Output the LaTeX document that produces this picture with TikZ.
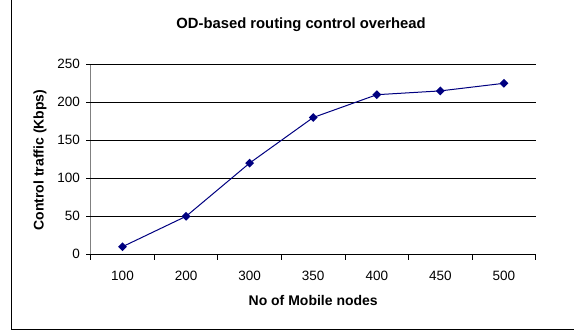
\documentclass[tikz,border=0pt]{standalone}
\usepackage{fontspec}
\setmainfont{Liberation Sans}
\usetikzlibrary{shapes.geometric}
\begin{document}
\begin{tikzpicture}[x=1pt,y=-1pt,
  ticklabel/.style={inner sep=0pt,outer sep=0pt,text={rgb,255:red,0;green,0;blue,0},font=\fontsize{13.5}{16}\selectfont},
  axistitle/.style={inner sep=0pt,outer sep=0pt,text={rgb,255:red,0;green,0;blue,0},font=\bfseries\fontsize{14}{17}\selectfont},
  gridline/.style={draw={rgb,255:red,0;green,0;blue,0},line width=0.8pt},
  axisline/.style={draw={rgb,255:red,128;green,128;blue,128},line width=0.9pt},
  tickline/.style={draw={rgb,255:red,0;green,0;blue,0},line width=0.8pt},
  dataline/.style={draw={rgb,255:red,0;green,0;blue,128},line width=1pt},
  datamark/.style={diamond,fill={rgb,255:red,0;green,0;blue,128},inner sep=0pt,minimum size=9pt}]
\path[use as bounding box] (0,0) rectangle (574,335);
% chart frame
\draw[draw={rgb,255:red,0;green,0;blue,0},line width=1pt] (11.5,0) -- (11.5,329) -- (574,329);
% title
\node[axistitle,font=\bfseries\fontsize{14.8}{18}\selectfont] (title) at (301,25) {OD-based routing control overhead};
% gridlines
\draw[gridline] (90.7,64.3) -- (535.7,64.3);
\draw[gridline] (90.7,102.3) -- (535.7,102.3);
\draw[gridline] (90.7,140.3) -- (535.7,140.3);
\draw[gridline] (90.7,178.3) -- (535.7,178.3);
\draw[gridline] (90.7,216.3) -- (535.7,216.3);
% axes
\draw[axisline] (90.7,64.3) -- (90.7,254.3);
\draw[tickline] (90.7,254.3) -- (535.7,254.3);
% y ticks and labels
\draw[tickline] (86,64.3) -- (90.7,64.3);
\draw[tickline] (86,102.3) -- (90.7,102.3);
\draw[tickline] (86,140.3) -- (90.7,140.3);
\draw[tickline] (86,178.3) -- (90.7,178.3);
\draw[tickline] (86,216.3) -- (90.7,216.3);
\draw[tickline] (86,254.3) -- (90.7,254.3);
\node[ticklabel,anchor=east] (y250) at (80,64.3) {250};
\node[ticklabel,anchor=east] (y200) at (80,102.3) {200};
\node[ticklabel,anchor=east] (y150) at (80,140.3) {150};
\node[ticklabel,anchor=east] (y100) at (80,178.3) {100};
\node[ticklabel,anchor=east] (y50) at (80,216.3) {50};
\node[ticklabel,anchor=east] (y0) at (80,254.3) {0};
% x ticks and labels
\draw[tickline] (90.7,254.3) -- (90.7,259.5);
\draw[tickline] (154.3,254.3) -- (154.3,259.5);
\draw[tickline] (217.8,254.3) -- (217.8,259.5);
\draw[tickline] (281.4,254.3) -- (281.4,259.5);
\draw[tickline] (345.0,254.3) -- (345.0,259.5);
\draw[tickline] (408.5,254.3) -- (408.5,259.5);
\draw[tickline] (472.1,254.3) -- (472.1,259.5);
\draw[tickline] (535.7,254.3) -- (535.7,259.5);
\node[ticklabel] (x100) at (122.5,276) {100};
\node[ticklabel] (x200) at (186.1,276) {200};
\node[ticklabel] (x300) at (249.6,276) {300};
\node[ticklabel] (x350) at (313.2,276) {350};
\node[ticklabel] (x400) at (376.8,276) {400};
\node[ticklabel] (x450) at (440.3,276) {450};
\node[ticklabel] (x500) at (503.9,276) {500};
% axis titles
\node[axistitle] (xtitle) at (313.2,300) {No of Mobile nodes};
\node[axistitle,rotate=90] (ytitle) at (40,160) {Control traffic (Kbps)};
% data series
\coordinate (p1) at (122.5,246.7);
\coordinate (p2) at (186.1,216.3);
\coordinate (p3) at (249.6,163.1);
\coordinate (p4) at (313.2,117.5);
\coordinate (p5) at (376.8,94.7);
\coordinate (p6) at (440.3,90.9);
\coordinate (p7) at (503.9,83.3);
\draw[dataline] (p1) -- (p2) -- (p3) -- (p4) -- (p5) -- (p6) -- (p7);
\node[datamark] (m1) at (p1) {};
\node[datamark] (m2) at (p2) {};
\node[datamark] (m3) at (p3) {};
\node[datamark] (m4) at (p4) {};
\node[datamark] (m5) at (p5) {};
\node[datamark] (m6) at (p6) {};
\node[datamark] (m7) at (p7) {};
\end{tikzpicture}
\end{document}
